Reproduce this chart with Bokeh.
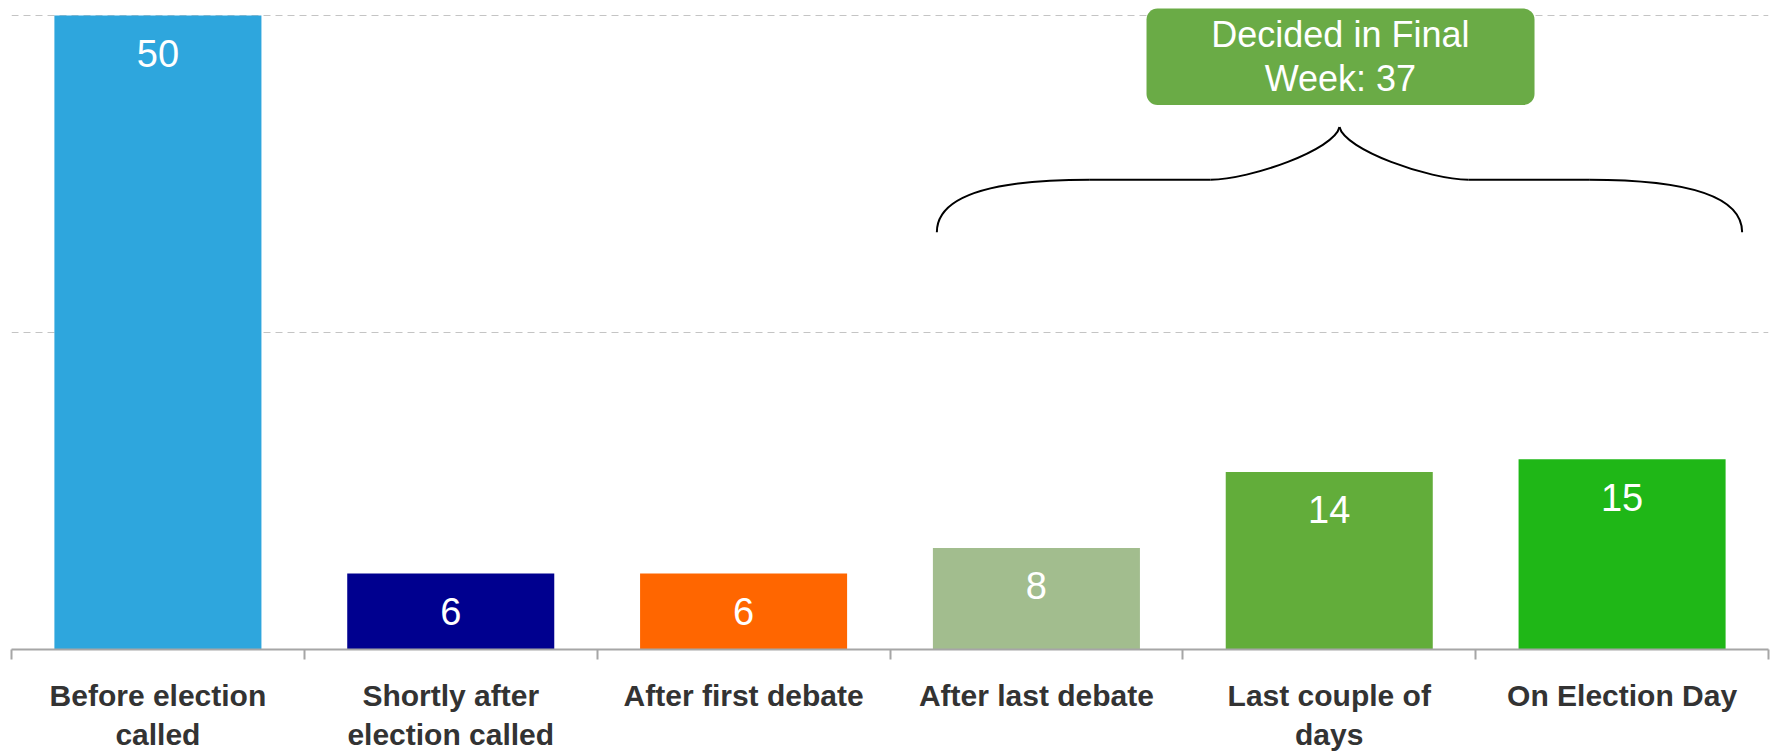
from bokeh.plotting import figure
from bokeh.models import ColumnDataSource, FixedTicker, Range1d, BoxAnnotation
from bokeh.core.properties import value
from bokeh.embed import file_html
from bokeh.resources import INLINE

# ---- data ----
categories = ["Before election called", "Shortly after election called", "After first debate",
              "After last debate", "Last couple of days", "On Election Day"]
tick_labels = ["Before election\ncalled", "Shortly after\nelection called", "After first debate",
               "After last debate", "Last couple of\ndays", "On Election Day"]
values = [50, 6, 6, 8, 14, 15]
colors = ["#2EA6DD", "#00008F", "#FF6600", "#A2BD8E", "#62AD3A", "#1FB717"]
grid_ticks = [0, 25, 50]
final_week_start = 3  # index of first category in the "final week" group

# ---- layout constants ----
Y_TOP = 51.18
LABEL_DROP = 2.98
FONT = "Liberation Sans"

n = len(categories)
xs = [i + 0.5 for i in range(n)]
src = ColumnDataSource(dict(x=xs, top=values, color=colors,
                            ly=[v - LABEL_DROP for v in values],
                            txt=[str(v) for v in values]))

p = figure(width=1774, height=754, x_range=Range1d(0, n), y_range=Range1d(0, Y_TOP),
           output_backend="svg", toolbar_location=None,
           min_border_left=11, min_border_right=6, min_border_top=0, min_border_bottom=0)
p.outline_line_color = None
p.background_fill_color = "white"

# grid
p.xgrid.visible = False
p.ygrid.ticker = FixedTicker(ticks=grid_ticks)
p.ygrid.grid_line_color = "#C4C4C4"
p.ygrid.grid_line_dash = "7 5"
p.ygrid.grid_line_width = 1
p.yaxis.visible = False

# callout box (drawn under glyphs)
box = BoxAnnotation(left=3.876, right=5.201, top=50.55, bottom=42.94,
                    fill_color="#6AAB46", fill_alpha=1.0, line_color=None, border_radius=11,
                    level="underlay")
p.add_layout(box)

# bars
p.vbar(x="x", top="top", bottom=0, width=0.707, fill_color="color", line_color=None, source=src)
p.text(x="x", y="ly", text="txt", source=src, text_color="white",
       text_font=value(FONT), text_font_size="38px", text_align="center", text_baseline="middle")

# x axis
ax = p.xaxis[0]
ax.ticker = FixedTicker(ticks=xs, minor_ticks=list(range(n + 1)))
ax.major_label_overrides = {x: lab for x, lab in zip(xs, tick_labels)}
ax.major_tick_out = 0
ax.major_tick_in = 0
ax.minor_tick_out = 10
ax.minor_tick_in = 0
ax.axis_line_color = "#A6A6A6"
ax.axis_line_width = 2
ax.minor_tick_line_color = "#A6A6A6"
ax.minor_tick_line_width = 2
ax.major_label_text_font = FONT
ax.major_label_text_font_size = "30px"
ax.major_label_text_font_style = "bold"
ax.major_label_text_color = "#333333"
ax.major_label_standoff = 19
ax.major_label_text_line_height = 1.2
ax.axis_label = None
ax.axis_label_standoff = 0

# brace over final-week group
X0, X1 = 3.16, 5.91
XM = (X0 + X1) / 2
h = (X1 - X0) / 2
Y_END, Y_FLAT, Y_TIP = 32.9, 37.05, 41.2
dA = Y_FLAT - Y_END
dB = Y_TIP - Y_FLAT
segs = []
for s in (1, -1):
    base = XM - s * h
    segs.append(dict(x0=base, y0=Y_END, x1=base + s * 0.38 * h, y1=Y_FLAT,
                     cx0=base, cy0=Y_END + 0.61 * dA, cx1=base + s * 0.107 * h, cy1=Y_FLAT))
    segs.append(dict(x0=base + s * 0.38 * h, y0=Y_FLAT, x1=base + s * 0.68 * h, y1=Y_FLAT,
                     cx0=base + s * 0.48 * h, cy0=Y_FLAT, cx1=base + s * 0.58 * h, cy1=Y_FLAT))
    segs.append(dict(x0=base + s * 0.68 * h, y0=Y_FLAT, x1=XM, y1=Y_TIP,
                     cx0=base + s * 0.777 * h, cy0=Y_FLAT, cx1=base + s * 0.988 * h, cy1=Y_FLAT + 0.57 * dB))
bsrc = ColumnDataSource({k: [sg[k] for sg in segs] for k in segs[0]})
p.bezier(x0="x0", y0="y0", x1="x1", y1="y1", cx0="cx0", cy0="cy0", cx1="cx1", cy1="cy1",
         source=bsrc, line_color="black", line_width=2)

total_final = sum(values[final_week_start:])
p.text(x=[4.538], y=[46.75], text=[f"Decided in Final\nWeek: {total_final}"], text_color="white",
       text_font=value(FONT), text_font_size="36px", text_align="center", text_baseline="middle",
       text_line_height=1.07)

open("out.html", "w").write(file_html(p, INLINE))
